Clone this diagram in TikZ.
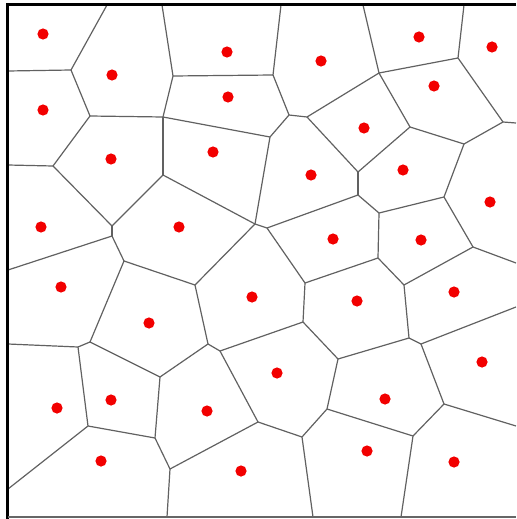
\documentclass[tikz,border=0pt]{standalone}
\usepackage{tikz}

\tikzset{
  edge/.style={black!62, line width=0.6pt},
  site/.style={fill=red!95!black},
  frame/.style={black, line width=1.6pt}
}

\begin{document}
\begin{tikzpicture}[x=0.5pt, y=-0.5pt]
        \useasboundingbox (0,0) rectangle (516,519);
        % sites
        \foreach \i/\x/\y in {1/43/34, 2/112/75, 3/227/52, 4/321/61, 5/419/37, 6/492/47,
            7/43/110, 8/228/97, 9/434/86, 10/364/128, 11/111/159, 12/213/152,
            13/311/175, 14/403/170, 15/490/202, 16/41/227, 17/179/227, 18/333/239,
            19/421/240, 20/61/287, 21/252/297, 22/357/301, 23/454/292, 24/149/323,
            25/482/362, 26/277/373, 27/57/408, 28/111/400, 29/207/411, 30/385/399,
            31/101/461, 32/241/471, 33/367/451, 34/454/462} {
            \coordinate (s\i) at (\x,\y);
            \fill[site] (s\i) circle (2.8pt);
        }
        % cell corners
        \foreach \n/\x/\y in {A/71/70, B/90/116, C/53/166, D1/112/226, D2/112/236,
            E/124/261, F/90/342, G/78/347, H/160/377, I/155/438, J/88/426,
            K/170/469, L1/255/224, L2/267/228, M/305/283, N/195/285, O/303/322,
            P/220/351, Q/208/344, R/258/422, S/302/437, T/327/409, U/338/359,
            W/444/404, X/413/436, Y/358/195, Z/379/213, AA/444/197, AB/378/258,
            AC/473/247, AD/404/285, AE/409/338, AF/421/344, BA/379/73, BB/458/58,
            BC/410/127, BD/503/122, BE/464/144, BF/358/172, CA/273/75, CB/289/115,
            CC/307/117, CD/270/137, CE/173/76, CF/163/117, DA/163/175} {
            \coordinate (\n) at (\x,\y);
        }
        % ends on the frame
        \foreach \n/\x/\y in {t1/107/5, t2/162/5, t3/281/5, t4/363/5, t5/464/5,
            l1/8/71, l2/8/165, l3/8/270, l4/8/344, l5/8/489,
            b1/167/517, b2/313/517, b3/401/517,
            r1/516/123, r2/516/263, r3/516/307, r4/516/426} {
            \coordinate (\n) at (\x,\y);
        }
        % cell walls
        \foreach \a/\b in {t1/A, l1/A, A/B, B/CF, CF/CE, CE/t2, CE/CA, CA/t3,
            CA/CB, CB/CC, CC/BA, BA/t4, BA/BB, BB/t5, BB/BD, BD/r1, BD/BE,
            BC/BE, BA/BC, BC/BF, CC/BF, BF/Y, CB/CD, CD/CF, CD/L1, CF/DA,
            DA/L1, DA/D1, B/C, C/l2, C/D1, D1/D2, D2/l3, D2/E, E/N, E/F, F/G,
            G/l4, G/J, J/l5, J/I, F/H, H/I, I/K, K/b1, K/R, H/Q, Q/N, Q/P,
            N/L1, L1/L2, L2/Y, L2/M, M/AB, M/O, O/P, O/U, P/R, R/S, S/b2, S/T,
            T/U, T/X, U/AE, AE/AD, AE/AF, AF/r3, AF/W, W/r4, W/X, X/b3, Y/Z,
            Z/AA, Z/AB, AA/BE, AA/AC, AC/r2, AC/AD, AB/AD} {
            \draw[edge] (\a) -- (\b);
        }
        % frame
        \draw[frame] (516,4.5) -- (7.5,4.5) -- (7.5,519);
        \draw[black!60, line width=0.8pt] (7.5,517) -- (516,517);
    \end{tikzpicture}
\end{document}
